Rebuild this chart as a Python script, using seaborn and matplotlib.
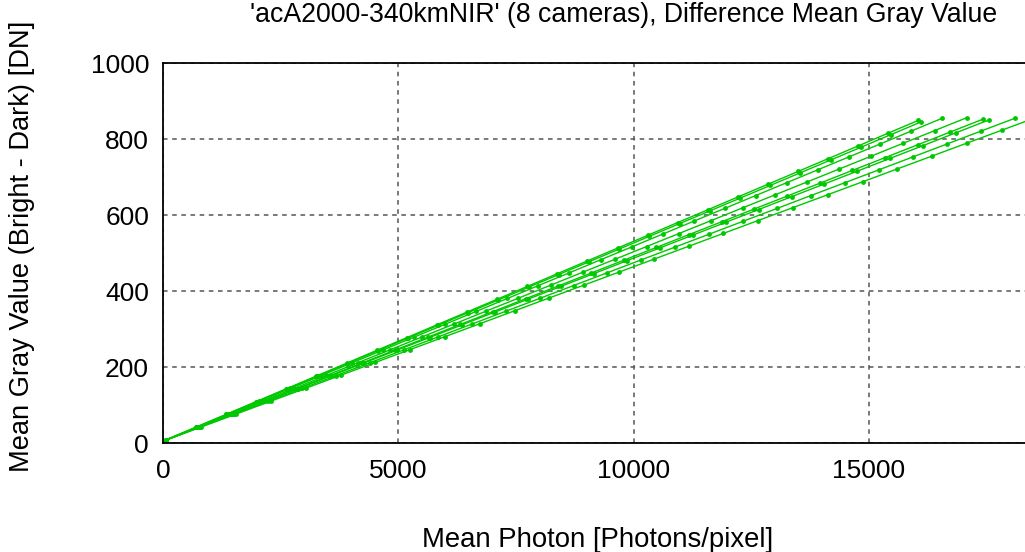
import matplotlib
matplotlib.use("Agg")
import matplotlib.pyplot as plt
import seaborn as sns
import pandas as pd

title = "'acA2000-340kmNIR' (8 cameras), Difference Mean Gray Value"
xlabel = "Mean Photon [Photons/pixel]"
ylabel = "Mean Gray Value (Bright - Dark) [DN]"
xticks = [0, 5000, 10000, 15000]
yticks = [0, 200, 400, 600, 800, 1000]

cam1_x = [64, 703, 1343, 1982, 2622, 3261, 3901, 4540, 5180, 5819, 6458, 7098, 7737, 8377, 9016, 9656, 10295, 10934, 11574, 12213, 12853, 13492, 14132, 14771, 15411, 16050]
cam1_y = [9.0, 42.6, 76.3, 109.9, 143.6, 177.2, 210.8, 244.5, 278.1, 311.8, 345.4, 379.0, 412.7, 446.3, 480.0, 513.6, 547.2, 580.9, 614.5, 648.2, 681.8, 715.4, 749.1, 782.7, 816.4, 850.0]
cam2_x = [65, 707, 1349, 1990, 2632, 3274, 3916, 4558, 5199, 5841, 6483, 7125, 7767, 8408, 9050, 9692, 10334, 10976, 11617, 12259, 12901, 13543, 14185, 14826, 15468, 16110]
cam2_y = [9.0, 42.5, 76.0, 109.4, 142.9, 176.4, 209.9, 243.4, 276.8, 310.3, 343.8, 377.3, 410.8, 444.2, 477.7, 511.2, 544.7, 578.2, 611.6, 645.1, 678.6, 712.1, 745.6, 779.0, 812.5, 846.0]
cam3_x = [66, 725, 1384, 2044, 2703, 3362, 4021, 4680, 5340, 5999, 6658, 7317, 7976, 8636, 9295, 9954, 10613, 11272, 11932, 12591, 13250, 13909, 14568, 15228, 15887, 16546]
cam3_y = [9.0, 42.8, 76.7, 110.5, 144.4, 178.2, 212.0, 245.9, 279.7, 313.6, 347.4, 381.2, 415.1, 448.9, 482.8, 516.6, 550.4, 584.3, 618.1, 652.0, 685.8, 719.6, 753.5, 787.3, 821.2, 855.0]
cam4_x = [68, 748, 1429, 2109, 2790, 3470, 4150, 4831, 5511, 6192, 6872, 7552, 8233, 8913, 9594, 10274, 10954, 11635, 12315, 12996, 13676, 14356, 15037, 15717, 16398, 17078]
cam4_y = [9.0, 42.9, 76.8, 110.8, 144.7, 178.6, 212.5, 246.4, 280.4, 314.3, 348.2, 382.1, 416.0, 450.0, 483.9, 517.8, 551.7, 585.6, 619.6, 653.5, 687.4, 721.3, 755.2, 789.2, 823.1, 857.0]
cam5_x = [70, 764, 1458, 2152, 2846, 3540, 4234, 4928, 5622, 6316, 7010, 7704, 8398, 9092, 9786, 10480, 11174, 11868, 12562, 13256, 13950, 14644, 15338, 16032, 16726, 17420]
cam5_y = [9.0, 42.8, 76.5, 110.3, 144.0, 177.8, 211.6, 245.3, 279.1, 312.8, 346.6, 380.4, 414.1, 447.9, 481.6, 515.4, 549.2, 582.9, 616.7, 650.4, 684.2, 718.0, 751.7, 785.5, 819.2, 853.0]
cam6_x = [70, 769, 1468, 2167, 2866, 3566, 4265, 4964, 5663, 6362, 7061, 7760, 8459, 9159, 9858, 10557, 11256, 11955, 12654, 13353, 14052, 14752, 15451, 16150, 16849, 17548]
cam6_y = [9.0, 42.7, 76.4, 110.0, 143.7, 177.4, 211.1, 244.8, 278.4, 312.1, 345.8, 379.5, 413.2, 446.8, 480.5, 514.2, 547.9, 581.6, 615.2, 648.9, 682.6, 716.3, 750.0, 783.6, 817.3, 851.0]
cam7_x = [72, 793, 1513, 2234, 2955, 3676, 4396, 5117, 5838, 6558, 7279, 8000, 8721, 9441, 10162, 10883, 11604, 12324, 13045, 13766, 14486, 15207, 15928, 16649, 17369, 18090]
cam7_y = [9.0, 42.8, 76.7, 110.5, 144.4, 178.2, 212.0, 245.9, 279.7, 313.6, 347.4, 381.2, 415.1, 448.9, 482.8, 516.6, 550.4, 584.3, 618.1, 652.0, 685.8, 719.6, 753.5, 787.3, 821.2, 855.0]
cam8_x = [74, 813, 1553, 2292, 3032, 3771, 4511, 5250, 5990, 6729, 7468, 8208, 8947, 9687, 10426, 11166, 11905, 12644, 13384, 14123, 14863, 15602, 16342, 17081, 17821, 18560]
cam8_y = [9.0, 43.0, 76.9, 110.9, 144.8, 178.8, 212.8, 246.7, 280.7, 314.6, 348.6, 382.6, 416.5, 450.5, 484.4, 518.4, 552.4, 586.3, 620.3, 654.2, 688.2, 722.2, 756.1, 790.1, 824.0, 858.0]

cams_x = [cam1_x, cam2_x, cam3_x, cam4_x, cam5_x, cam6_x, cam7_x, cam8_x]
cams_y = [cam1_y, cam2_y, cam3_y, cam4_y, cam5_y, cam6_y, cam7_y, cam8_y]

rows = []
for k, (xs, ys) in enumerate(zip(cams_x, cams_y)):
    for xv, yv in zip(xs, ys):
        rows.append({"camera": f"cam{k+1}", "photon": xv, "gray": yv})
df = pd.DataFrame(rows)

sns.set_style("white")
plt.rcParams["font.family"] = ["Liberation Sans", "DejaVu Sans"]
plt.rcParams["text.color"] = "black"

fig = plt.figure(figsize=(10.25, 5.52), dpi=100)
ax = fig.add_axes([163 / 1025, 1 - 443.3 / 552, 1 - 163 / 1025, (443.3 - 63.3) / 552])

green = "#00c800"
sns.lineplot(data=df, x="photon", y="gray", hue="camera",
             palette=[green] * 8, estimator=None, sort=False,
             marker="o", markersize=3.5, markeredgewidth=0,
             linewidth=1.0, legend=False, ax=ax)

ax.set_xlim(0, 18313)
ax.set_ylim(0, 1000)
ax.set_xticks(xticks)
ax.set_yticks(yticks)
ax.set_xticklabels([str(v) for v in xticks])
ax.set_yticklabels([str(v) for v in yticks])
ax.tick_params(axis="both", length=0, labelsize=19, colors="black", labelcolor="black")
ax.tick_params(axis="x", pad=11)
ax.tick_params(axis="y", pad=10)

ax.grid(True, linestyle=(0, (3, 3)), color="#555555", linewidth=1.1)
for s in ["left", "top", "bottom"]:
    ax.spines[s].set_color("black")
    ax.spines[s].set_linewidth(1.3)
ax.spines["right"].set_visible(False)

ax.set_xlabel("")
ax.set_ylabel("")
fig.text(598 / 1025, 1 - 540 / 552, xlabel, fontsize=19.8, ha="center", va="center", color="black")
fig.text(22 / 1025, 1 - 246 / 552, ylabel, fontsize=19.6, ha="center", va="center", rotation=90, color="black")
fig.text(624 / 1025, 1 - 15 / 552, title, fontsize=19.2, ha="center", va="center", color="black")

fig.savefig("out.png", dpi=100)
